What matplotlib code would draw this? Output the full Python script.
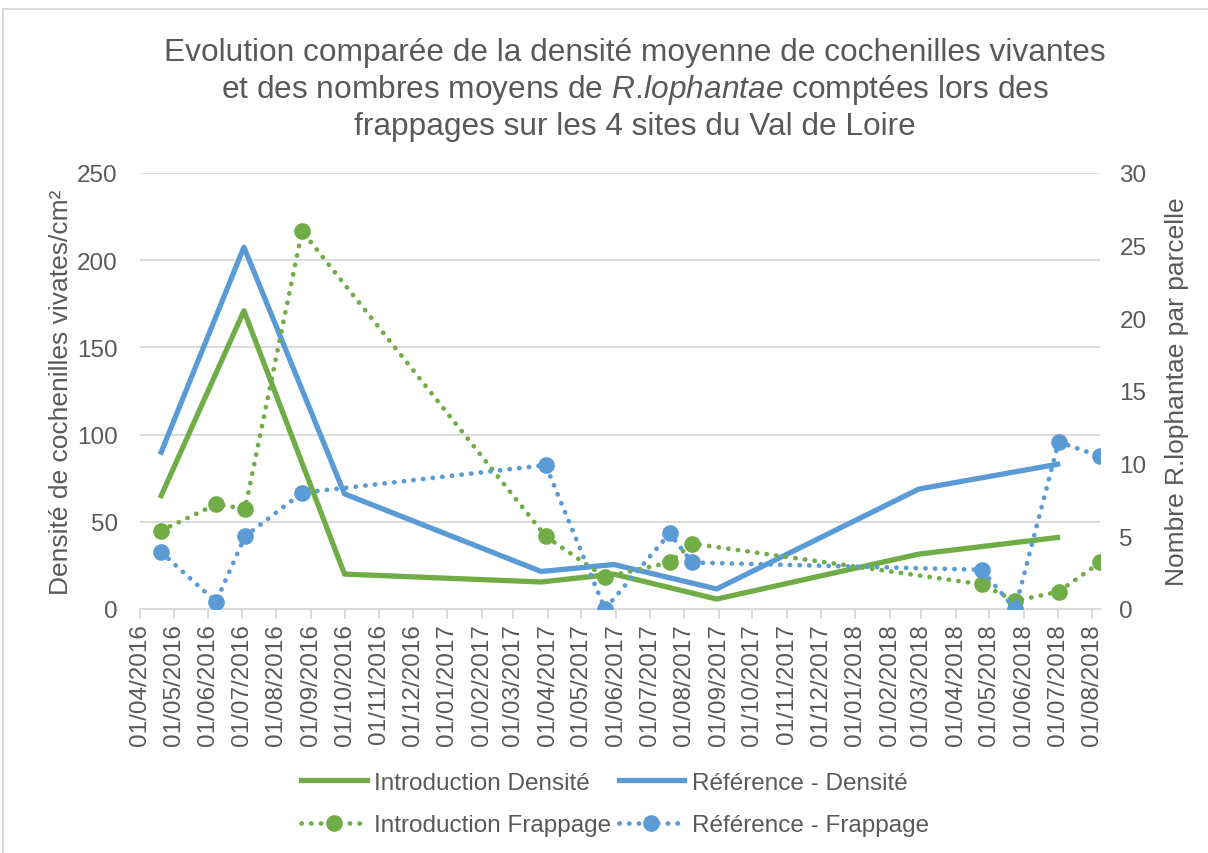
import matplotlib
matplotlib.use("Agg")
import matplotlib.pyplot as plt
import matplotlib.dates as mdates
from matplotlib.lines import Line2D
from matplotlib.patches import Rectangle
import numpy as np

plt.rcParams["font.family"] = ["Liberation Sans", "DejaVu Sans"]
plt.rcParams["mathtext.fontset"] = "custom"
plt.rcParams["mathtext.rm"] = "Liberation Sans"
plt.rcParams["mathtext.it"] = "Liberation Sans:italic"

# density sampling dates (left axis)
dens_dates = ["2016-04-20", "2016-07-03", "2016-10-01", "2017-03-26",
              "2017-05-30", "2017-08-30", "2018-02-27", "2018-07-01"]
intro_dens = [65, 171, 20, 15.5, 20, 5.7, 31.5, 41]
ref_dens = [90, 207.5, 66, 21.5, 25.5, 11.5, 68.8, 83]

# beating (frappage) dates (right axis)
frap_dates = ["2016-04-20", "2016-06-08", "2016-07-04", "2016-08-24",
              "2017-03-30", "2017-05-22", "2017-07-19", "2017-08-08",
              "2018-04-24", "2018-05-24", "2018-07-02", "2018-08-08"]
intro_frap = [5.4, 7.2, 6.9, 26.0, 5.0, 2.2, 3.2, 4.5, 1.7, 0.55, 1.2, 3.2]
ref_frap = [3.9, 0.5, 5.0, 8.0, 9.9, 0.0, 5.2, 3.2, 2.7, 0.0, 11.5, 10.5]

GREEN = "#70AD47"
BLUE = "#5B9BD5"
TXT = "#595959"
GRID = "#D9D9D9"

d_dens = np.array(dens_dates, dtype="datetime64[D]")
d_frap = np.array(frap_dates, dtype="datetime64[D]")

fig = plt.figure(figsize=(12.08, 8.54), dpi=100)
fig.patches.append(Rectangle((3 / 1208, -0.1), 1.2, 1.1 - 10 / 854,
                             transform=fig.transFigure, fill=False,
                             edgecolor=GRID, linewidth=1.5))

ax = fig.add_axes([140 / 1208, 1 - 610 / 854, 960 / 1208, 436 / 854])
ax2 = ax.twinx()

ax.plot(d_dens, intro_dens, color=GREEN, lw=3.8, solid_joinstyle="round", zorder=3)
ax.plot(d_dens, ref_dens, color=BLUE, lw=3.8, solid_joinstyle="round", zorder=3)

dot = (0, (0.05, 2.0))
mk = dict(marker="o", markersize=12, markeredgewidth=0)
ax2.plot(d_frap, intro_frap, color=GREEN, lw=3.4, linestyle=dot,
         dash_capstyle="round", zorder=3, **mk)
ax2.plot(d_frap, ref_frap, color=BLUE, lw=3.4, linestyle=dot,
         dash_capstyle="round", zorder=3, **mk)

ax.set_xlim(np.datetime64("2016-04-01"), np.datetime64("2018-08-08"))
ax.set_ylim(0, 250)
ax2.set_ylim(0, 30)
ax.set_yticks(np.arange(0, 251, 50))
ax2.set_yticks(np.arange(0, 31, 5))
ax.grid(axis="y", color=GRID, lw=1.3)
ax.set_axisbelow(True)

ax.xaxis.set_major_locator(mdates.MonthLocator())
ax.xaxis.set_major_formatter(mdates.DateFormatter("%d/%m/%Y"))
for lab in ax.get_xticklabels():
    lab.set_rotation(90)

for a in (ax, ax2):
    for s in a.spines.values():
        s.set_visible(False)
ax.spines["bottom"].set_visible(True)
ax.spines["bottom"].set_color(GRID)
ax.spines["bottom"].set_linewidth(1.3)

ax.tick_params(axis="x", colors=GRID, labelcolor=TXT, labelsize=17.5,
               length=7, width=1.3, pad=3)
ax.tick_params(axis="y", length=0, labelcolor=TXT, labelsize=17.5, pad=16)
ax2.tick_params(axis="y", length=0, labelcolor=TXT, labelsize=17.5, pad=14)

ax.set_ylabel("Densité de cochenilles vivates/cm²", fontsize=19, color=TXT, labelpad=3)
ax2.set_ylabel("Nombre R.lophantae par parcelle", fontsize=19, color=TXT, labelpad=13)

title = ("Evolution comparée de la densité moyenne de cochenilles vivantes\n"
         "et des nombres moyens de $R.\\!lophantae$ comptées lors des\n"
         "frappages sur les 4 sites du Val de Loire")
fig.text(635 / 1208, 1 - 90 / 854, title, ha="center", va="center",
         fontsize=22.8, color=TXT, linespacing=1.22)

handles = [
    Line2D([], [], color=GREEN, lw=3.8),
    Line2D([], [], color=GREEN, lw=3.4, linestyle=dot, dash_capstyle="round", **mk),
    Line2D([], [], color=BLUE, lw=3.8),
    Line2D([], [], color=BLUE, lw=3.4, linestyle=dot, dash_capstyle="round", **mk),
]
labels = ["Introduction Densité", "Introduction Frappage",
          "Référence - Densité", "Référence - Frappage"]
leg = fig.legend(handles, labels, loc="center", ncol=2,
                 bbox_to_anchor=(615 / 1208, 1 - 805 / 854), frameon=False,
                 fontsize=17.5, handlelength=2.7, handletextpad=0.3,
                 columnspacing=0.3, labelspacing=0.85)
for t in leg.get_texts():
    t.set_color(TXT)

fig.savefig("out.png", dpi=100, facecolor="white")
